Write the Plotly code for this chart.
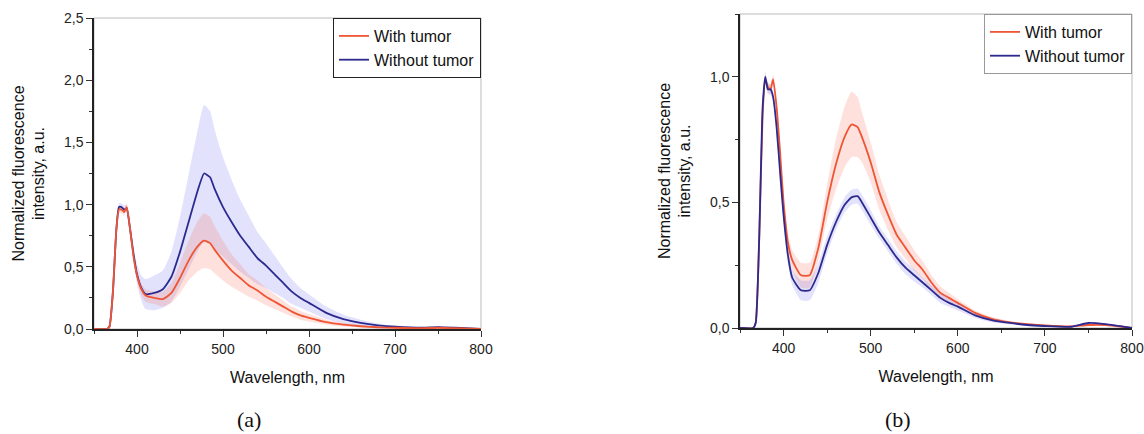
import plotly.graph_objects as go

# ---------------- data ----------------
wavelength = [350, 365, 368, 372, 376, 379, 382, 385, 388, 392, 396, 400, 405, 410, 420, 430,
              440, 450, 460, 470, 478, 485, 490, 500, 510, 520, 530, 540, 550, 560, 570, 580,
              590, 600, 620, 640, 660, 680, 700, 730, 750, 770, 800]

# panel (a)
a_with_mean = [0, 0, 0.02, 0.3, 0.8, 0.96, 0.96, 0.94, 0.98, 0.8, 0.58, 0.43, 0.32, 0.27, 0.25, 0.24,
               0.29, 0.41, 0.55, 0.66, 0.71, 0.69, 0.64, 0.55, 0.47, 0.41, 0.35, 0.31, 0.26, 0.22, 0.18, 0.14,
               0.11, 0.09, 0.055, 0.035, 0.022, 0.014, 0.01, 0.006, 0.01, 0.006, 0]
a_with_sd = [0, 0, 0, 0.01, 0.02, 0.03, 0.03, 0.03, 0.03, 0.03, 0.03, 0.04, 0.05, 0.05, 0.05, 0.06,
             0.08, 0.12, 0.16, 0.2, 0.22, 0.21, 0.19, 0.16, 0.13, 0.11, 0.09, 0.08, 0.07, 0.06, 0.05, 0.04,
             0.035, 0.03, 0.02, 0.015, 0.01, 0.005, 0.005, 0.004, 0.004, 0.003, 0]
a_without_mean = [0, 0, 0.02, 0.3, 0.8, 0.98, 0.98, 0.96, 0.97, 0.8, 0.6, 0.44, 0.33, 0.28, 0.29, 0.32,
                  0.42, 0.62, 0.86, 1.1, 1.25, 1.22, 1.13, 0.98, 0.86, 0.75, 0.66, 0.57, 0.51, 0.44, 0.37, 0.3,
                  0.25, 0.21, 0.13, 0.08, 0.05, 0.03, 0.018, 0.01, 0.015, 0.01, 0]
a_without_sd = [0, 0, 0, 0.01, 0.02, 0.03, 0.03, 0.03, 0.03, 0.05, 0.06, 0.08, 0.1, 0.12, 0.14, 0.15,
                0.2, 0.28, 0.38, 0.48, 0.55, 0.53, 0.48, 0.4, 0.34, 0.29, 0.25, 0.21, 0.18, 0.15, 0.12, 0.1,
                0.08, 0.07, 0.05, 0.035, 0.025, 0.015, 0.01, 0.006, 0.005, 0.004, 0]

# panel (b)
b_with_mean = [0, 0, 0.02, 0.35, 0.85, 0.99, 0.96, 0.95, 0.99, 0.88, 0.7, 0.5, 0.34, 0.27, 0.21, 0.21,
               0.32, 0.5, 0.65, 0.76, 0.81, 0.8, 0.76, 0.66, 0.54, 0.45, 0.37, 0.32, 0.27, 0.23, 0.18, 0.14,
               0.12, 0.1, 0.06, 0.035, 0.022, 0.015, 0.01, 0.006, 0.012, 0.012, 0]
b_with_sd = [0, 0, 0, 0.01, 0.02, 0.02, 0.02, 0.02, 0.02, 0.03, 0.03, 0.03, 0.04, 0.04, 0.05, 0.05,
             0.05, 0.07, 0.1, 0.12, 0.13, 0.12, 0.1, 0.08, 0.07, 0.06, 0.05, 0.045, 0.04, 0.035, 0.03, 0.025,
             0.02, 0.015, 0.01, 0.008, 0.006, 0.005, 0.004, 0.003, 0.003, 0.003, 0]
b_without_mean = [0, 0, 0.02, 0.35, 0.88, 1.0, 0.95, 0.95, 0.92, 0.8, 0.62, 0.45, 0.29, 0.2, 0.15, 0.15,
                  0.22, 0.33, 0.42, 0.49, 0.52, 0.525, 0.5, 0.44, 0.38, 0.33, 0.28, 0.24, 0.21, 0.18, 0.15, 0.12,
                  0.1, 0.085, 0.05, 0.03, 0.02, 0.012, 0.008, 0.005, 0.02, 0.015, 0]
b_without_sd = [0, 0, 0, 0.01, 0.02, 0.02, 0.02, 0.02, 0.02, 0.02, 0.03, 0.03, 0.03, 0.03, 0.04, 0.04,
                0.04, 0.035, 0.03, 0.03, 0.03, 0.03, 0.03, 0.03, 0.025, 0.025, 0.025, 0.025, 0.025, 0.02, 0.02, 0.02,
                0.015, 0.015, 0.01, 0.008, 0.006, 0.005, 0.004, 0.003, 0.003, 0.003, 0]

series_names = ["With tumor", "Without tumor"]
x_title = "Wavelength, nm"
y_title = "Normalized fluorescence<br>intensity, a.u."
captions = ["(a)", "(b)"]

# ---------------- style ----------------
RED = "#EE5535"
BLUE = "#2C2A8E"
RED_BAND = "rgba(250,120,100,0.22)"
BLUE_BAND = "rgba(125,125,240,0.22)"
W, H = 1144, 434
FONT = "Liberation Sans, Arial"


def px(x):
    return x / W


def py(y):
    return (H - y) / H


fig = go.Figure()


def add_panel(xa, ya, legend, means, sds, order):
    cols = [RED, BLUE]
    bands = [RED_BAND, BLUE_BAND]
    for i in order:
        up = [m + s for m, s in zip(means[i], sds[i])]
        lo = [max(m - s, 0) for m, s in zip(means[i], sds[i])]
        fig.add_trace(go.Scatter(x=wavelength + wavelength[::-1], y=up + lo[::-1],
                                 fill="toself", fillcolor=bands[i],
                                 line=dict(width=0, shape="spline", smoothing=0.5),
                                 mode="lines", hoverinfo="skip", showlegend=False,
                                 xaxis=xa, yaxis=ya))
    for i in order:
        fig.add_trace(go.Scatter(x=wavelength, y=means[i], mode="lines", name=series_names[i],
                                 line=dict(color=cols[i], width=1.8, shape="spline", smoothing=0.5),
                                 xaxis=xa, yaxis=ya, showlegend=False))
    for i in [0, 1]:
        fig.add_trace(go.Scatter(x=[None], y=[None], mode="lines", name=series_names[i],
                                 line=dict(color=cols[i], width=1.8),
                                 xaxis=xa, yaxis=ya, legend=legend))


add_panel("x", "y", "legend", [a_with_mean, a_without_mean], [a_with_sd, a_without_sd], [1, 0])
add_panel("x2", "y2", "legend2", [b_with_mean, b_without_mean], [b_with_sd, b_without_sd], [0, 1])

tickfont = dict(family=FONT, size=14, color="#222")
titlefont = dict(family=FONT, size=16, color="#111")


def xaxis(domain, anchor):
    return dict(domain=domain, anchor=anchor, range=[350, 800], tick0=0, dtick=100,
                ticks="outside", ticklen=6, tickwidth=1, tickcolor="#333",
                minor=dict(dtick=50, tick0=0, ticks="outside", ticklen=3, tickcolor="#333"),
                showline=True, linecolor="#222", linewidth=1.5, showgrid=False, zeroline=False,
                automargin=False,
                tickfont=tickfont, title=dict(text=x_title, font=titlefont, standoff=16))


def yaxis(domain, anchor, rng):
    return dict(domain=domain, anchor=anchor, range=rng, tick0=0, dtick=0.5, tickformat=".1f",
                ticks="outside", ticklen=6, tickwidth=1, tickcolor="#333",
                minor=dict(dtick=0.25, tick0=0, ticks="outside", ticklen=3, tickcolor="#333"),
                showline=True, linecolor="#222", linewidth=1.5, showgrid=False, zeroline=False,
                automargin=False,
                tickfont=tickfont, title=dict(text=y_title, font=titlefont, standoff=15))


xa_dom = [px(94), px(481)]
ya_dom = [py(329), py(18)]
xb_dom = [px(740), px(1132)]
yb_dom = [py(328), py(14)]

legend_common = dict(xanchor="right", yanchor="top", borderwidth=1, bgcolor="white",
                     tracegroupgap=0, font=dict(family=FONT, size=16, color="#111"),
                     itemwidth=30)

fig.update_layout(
    width=W, height=H, margin=dict(l=0, r=0, t=0, b=0, autoexpand=False),
    paper_bgcolor="white", plot_bgcolor="white", separators=",.",
    xaxis=xaxis(xa_dom, "y"), yaxis=yaxis(ya_dom, "x", [0, 2.5]),
    xaxis2=xaxis(xb_dom, "y2"), yaxis2=yaxis(yb_dom, "x2", [0, 1.25]),
    legend=dict(x=xa_dom[1], y=ya_dom[1], bordercolor="#222", **legend_common),
    legend2=dict(x=xb_dom[1], y=yb_dom[1], bordercolor="#999", **legend_common),
    showlegend=True,
)

# light frame on top/right of each panel
for xr, yr in [("x domain", "y domain"), ("x2 domain", "y2 domain")]:
    fig.add_shape(type="rect", xref=xr, yref=yr, x0=0, x1=1, y0=0, y1=1,
                  line=dict(color="#bbbbbb", width=1), layer="below")

# captions
for txt, xpx in zip(captions, [249, 898]):
    fig.add_annotation(text=txt, xref="paper", yref="paper", x=px(xpx), y=py(419),
                       showarrow=False, xanchor="center", yanchor="middle",
                       font=dict(family="Liberation Serif, Times New Roman", size=22, color="#111"))

fig.write_html("out.html", config={"displayModeBar": False},
               post_script="document.body.style.margin='0px';document.body.style.overflow='hidden';")
